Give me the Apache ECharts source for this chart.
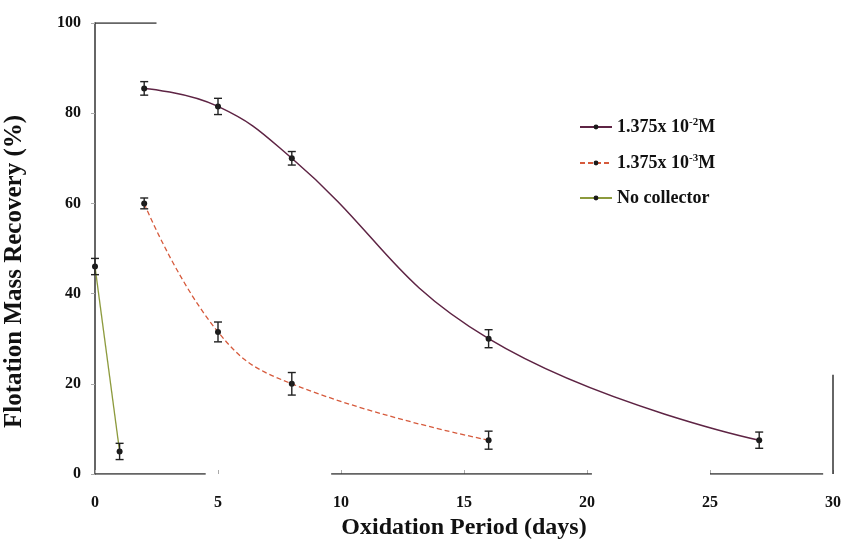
<!DOCTYPE html>
<html>
<head>
<meta charset="utf-8">
<script src="https://cdn.jsdelivr.net/npm/echarts@6/dist/echarts.min.js"></script>
<style>
  html, body { margin: 0; padding: 0; background: #ffffff; }
  #chart { width: 846px; height: 543px; }
</style>
</head>
<body>
<div id="chart"></div>
<script>
// Oxidation period (days) and flotation mass recovery (%) with error half-widths
const highDays = [2, 5, 8, 16, 27];
const highRecovery = [85.5, 81.5, 70, 30, 7.5];
const highError = [1.5, 1.8, 1.5, 2.0, 1.8];

const lowDays = [2, 5, 8, 16];
const lowRecovery = [60, 31.5, 20, 7.5];
const lowError = [1.2, 2.2, 2.5, 2.0];

const noneDays = [0, 1];
const noneRecovery = [46, 5];
const noneError = [1.8, 1.8];

const xTicks = [0, 5, 10, 15, 20, 25, 30];
const yTicks = [0, 20, 40, 60, 80, 100];

// visible pieces of the frame lines (in data units)
const bottomPieces = [[0, 4.5], [9.6, 20.2], [25.0, 29.6]];
const rightPiece = [0, 22];
const topPiece = [0, 2.5];

const seriesNames = ['high', 'low', 'none'];
const legendText = {
  high: '1.375x 10{sup|-2}M',
  low: '1.375x 10{sup|-3}M',
  none: 'No collector'
};

const FONT = '"Liberation Serif", "Times New Roman", serif';
const colors = { high: '#5e2444', low: '#d65a3c', none: '#8c9a3c' };

function pairs(xs, ys) { return xs.map((x, i) => [x, ys[i]]); }
function triples(xs, ys, es) { return xs.map((x, i) => [x, ys[i], es[i]]); }

function errorBars(data) {
  return {
    type: 'custom',
    silent: true,
    z: 5,
    data: data,
    renderItem: function (params, api) {
      const x = api.value(0), y = api.value(1), e = api.value(2);
      const top = api.coord([x, y + e]);
      const bot = api.coord([x, y - e]);
      const cap = 4;
      const style = { stroke: '#222', lineWidth: 1.4 };
      return {
        type: 'group',
        children: [
          { type: 'line', shape: { x1: top[0], y1: top[1], x2: bot[0], y2: bot[1] }, style: style },
          { type: 'line', shape: { x1: top[0] - cap, y1: top[1], x2: top[0] + cap, y2: top[1] }, style: style },
          { type: 'line', shape: { x1: bot[0] - cap, y1: bot[1], x2: bot[0] + cap, y2: bot[1] }, style: style }
        ]
      };
    }
  };
}

function curve(name, data, lineType, width) {
  return {
    name: name,
    type: 'line',
    data: data,
    smooth: 0.45,
    symbol: 'circle',
    symbolSize: 6,
    z: 4,
    itemStyle: { color: '#1a1a1a' },
    lineStyle: { color: colors[name], width: width, type: lineType }
  };
}

function frameLine(data) {
  return {
    type: 'line',
    silent: true,
    data: data,
    connectNulls: false,
    symbol: 'none',
    lineStyle: { color: '#333', width: 1.5 },
    z: 3
  };
}

const bottomData = [];
bottomPieces.forEach((p, i) => {
  if (i > 0) bottomData.push(null);
  bottomData.push([p[0], 0], [p[1], 0]);
});

const chart = echarts.init(document.getElementById('chart'), null, { renderer: 'canvas' });
chart.setOption({
  animation: false,
  backgroundColor: '#ffffff',
  grid: { left: 95, right: 13, top: 23, bottom: 69, outerBoundsMode: 'none' },
  xAxis: {
    type: 'value',
    min: 0, max: 30, interval: 5,
    name: 'Oxidation Period (days)',
    nameLocation: 'middle',
    nameGap: 42,
    nameTextStyle: { fontFamily: FONT, fontWeight: 'bold', fontSize: 24, color: '#111' },
    axisLine: { show: false },
    axisTick: { show: true, inside: true, length: 4, lineStyle: { color: '#aaa' } },
    splitLine: { show: false },
    axisLabel: {
      margin: 21,
      fontFamily: FONT, fontWeight: 'bold', fontSize: 16, color: '#111',
      formatter: v => xTicks.includes(v) ? String(v) : ''
    }
  },
  yAxis: {
    type: 'value',
    min: 0, max: 100, interval: 20,
    name: 'Flotation Mass Recovery (%)',
    nameLocation: 'middle',
    nameGap: 68,
    nameTextStyle: {
      fontFamily: FONT, fontWeight: 'bold', fontSize: 25, color: '#111',
      padding: [0, 46, 0, 0]
    },
    axisLine: { show: true, lineStyle: { color: '#333', width: 1.5 } },
    axisTick: { show: true, length: 4, lineStyle: { color: '#aaa' } },
    splitLine: { show: false },
    axisLabel: {
      margin: 14,
      fontFamily: FONT, fontWeight: 'bold', fontSize: 16, color: '#111',
      formatter: v => yTicks.includes(v) ? String(v) : ''
    }
  },
  legend: {
    orient: 'vertical',
    left: 574,
    top: 112,
    itemGap: 17,
    itemWidth: 32,
    itemHeight: 6,
    data: seriesNames,
    formatter: name => legendText[name],
    textStyle: {
      fontFamily: FONT, fontWeight: 'bold', fontSize: 18, color: '#111',
      rich: {
        sup: { fontFamily: FONT, fontWeight: 'bold', fontSize: 11, color: '#111', padding: [0, 0, 9, 0] }
      }
    }
  },
  series: [
    curve('high', pairs(highDays, highRecovery), 'solid', 1.5),
    curve('low', pairs(lowDays, lowRecovery), [5, 3], 1.3),
    curve('none', pairs(noneDays, noneRecovery), 'solid', 1.3),
    errorBars(triples(highDays, highRecovery, highError)),
    errorBars(triples(lowDays, lowRecovery, lowError)),
    errorBars(triples(noneDays, noneRecovery, noneError)),
    frameLine(bottomData),
    frameLine([[30, rightPiece[0]], [30, rightPiece[1]]]),
    frameLine([[topPiece[0], 100], [topPiece[1], 100]])
  ]
});
</script>
</body>
</html>
